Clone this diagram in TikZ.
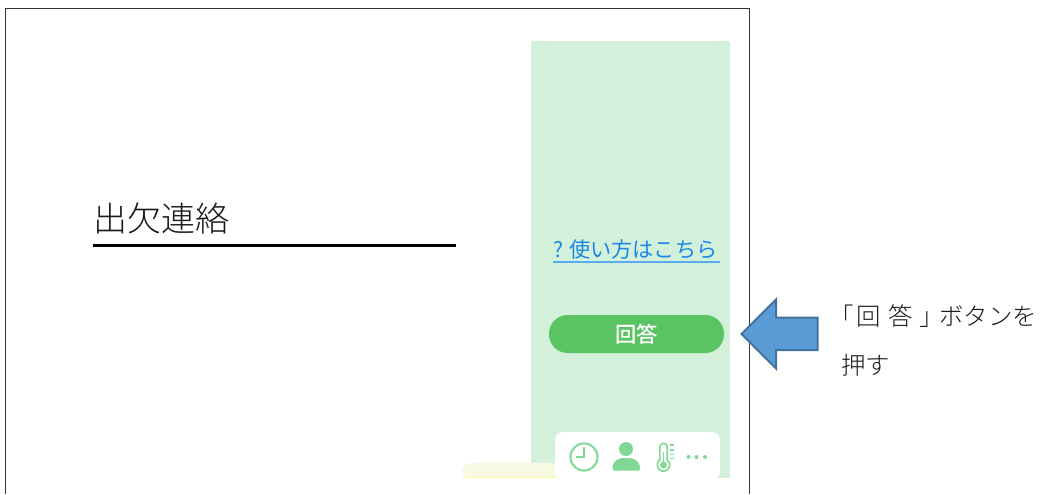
\documentclass[tikz,border=0pt]{standalone}
\usepackage{fontspec}
\setmainfont{Noto Sans CJK JP}
\newfontfamily\lightjp{Noto Sans CJK JP Light}
\newfontfamily\mediumjp{Noto Sans CJK JP Medium}
\definecolor{panel}{HTML}{D3F0DA}
\definecolor{btn}{HTML}{5AC463}
\definecolor{icon}{HTML}{7FD893}
\definecolor{linkc}{HTML}{1A86E8}
\definecolor{linkl}{HTML}{5AABEF}
\definecolor{arrowf}{HTML}{5B9BD5}
\definecolor{arrowd}{HTML}{41719C}
\definecolor{frame}{HTML}{333333}
\definecolor{cream}{HTML}{F7F9E2}
\tikzset{
  x=0.75pt,y=-0.75pt,
  framel/.style={draw=frame,line width=1.3pt},
  lbl/.style={inner sep=0pt,anchor=west,text=black!90},
  iconl/.style={draw=icon,line width=1.5pt,fill=none},
  iconf/.style={fill=icon,draw=none},
}
\newcommand{\szA}{\fontsize{18.3pt}{18.3pt}\selectfont\lightjp}
\begin{document}
\begin{tikzpicture}
\useasboundingbox (0,0) rectangle (1040,494);
\fill[white] (0,0) rectangle (1040,494);
% frame
\draw[framel] (5.5,494) -- (5.5,8.5) -- (749.5,8.5) -- (749.5,494);
% title
\node[lbl,font=\fontsize{25.5pt}{25.5pt}\selectfont\lightjp] (title) at (93.5,218) {出欠連絡};
\draw[black,line width=1.6pt] (93,245.5) -- (456,245.5);
% panel
\fill[panel] (531,41) rectangle (730,478);
\fill[cream,rounded corners=7pt] (462,463) -- (462,478) -- (560,478) -- (560,463) -- cycle;
\fill[cream!70!yellow] (462,477) rectangle (556,478);
\fill[white,rounded corners=6pt] (555,432) rectangle (720,480);
% link
\node[lbl,text=linkc,font=\fontsize{15.9pt}{15.9pt}\selectfont] (link) at (553.5,249.5) {?\hspace{4pt}使い方はこちら};
\draw[linkl,line width=1.5pt] (553,261.5) -- (719.5,261.5);
% button
\node[fill=btn,rounded corners=14pt,minimum width=131.25pt,minimum height=28.5pt,inner sep=0pt,text=white,font=\fontsize{16pt}{16pt}\selectfont\mediumjp] (answer) at (636.5,334) {回答};
% arrow
\draw[fill=arrowf,draw=arrowd,line width=1.5pt,line join=miter]
  (741.5,334) -- (776,299.5) -- (776,317.5) -- (817.5,317.5) -- (817.5,350) -- (776,350) -- (776,368.5) -- cycle;
% note
\node[lbl,font=\szA] (note1) at (829,316.5) {「\hspace{2pt}回\hspace{6pt}答\hspace{5pt}」\hspace{-3.5pt}ボタンを};
\node[lbl,font=\szA] (note2) at (841,365.5) {押す};
% clock
\draw[iconl] (584,457) circle (13.6);
\draw[iconl] (584,447) -- (584,457) -- (576,457);
% person
\fill[iconf] (626,449) circle (7);
\fill[iconf,rounded corners=1pt] (612.5,470.5) .. controls (612.5,459) and (620,458) .. (626,458) .. controls (632,458) and (640,459) .. (640,470.5) -- cycle;
% thermometer
\draw[icon,line width=1.2pt] (659.8,460) -- (659.8,447) arc[start angle=180,end angle=360,radius=3.7] -- (667.2,460) arc[start angle=-53,end angle=233,radius=6.2] -- cycle;
\fill[iconf] (663.5,465) circle (3.5);
\draw[icon,line width=1.1pt] (663.5,452) -- (663.5,464);
\foreach \yy in {445,450,454.5,458.5}{\draw[icon,line width=1pt] (670,\yy) -- (674,\yy);}
% dots
\foreach \xx in {688.5,696.5,705}{\fill[icon] (\xx,457) circle (2);}
\end{tikzpicture}
\end{document}
